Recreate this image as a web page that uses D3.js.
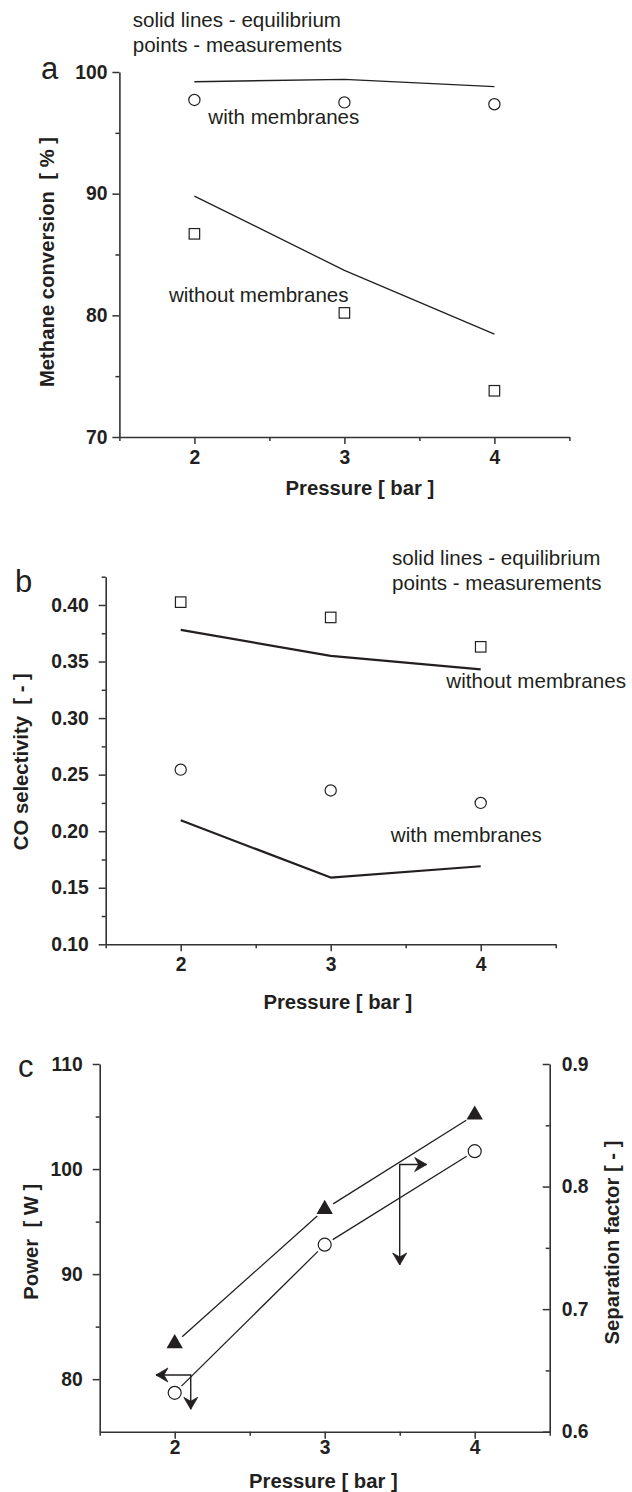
<!DOCTYPE html>
<html><head><meta charset="utf-8">
<script src="https://cdn.jsdelivr.net/npm/d3@7"></script>
<style>
body{margin:0;background:#fff;}
text{font-family:"Liberation Sans",Arial,Helvetica,sans-serif;fill:#231f20;white-space:pre;}
</style></head>
<body>
<script>
// ---------- data ----------
const pressure = [2, 3, 4];
const xMajor = [2, 3, 4];
const xMinor = [1.5, 2.5, 3.5, 4.5];

// panel a: methane conversion [%]
const convEqWith = [99.2, 99.4, 98.8];
const convMeasWith = [97.7, 97.5, 97.35];
const convEqWithout = [89.8, 83.7, 78.45];
const convMeasWithout = [86.7, 80.2, 73.8];
const aMajor = [70, 80, 90, 100];
const aMinor = [75, 85, 95];

// panel b: CO selectivity [-]
const selEqWithout = [0.378, 0.355, 0.343];
const selMeasWithout = [0.4025, 0.389, 0.363];
const selMeasWith = [0.2544, 0.236, 0.225];
const selEqWith = [0.2096, 0.159, 0.169];
const bMajor = [0.10, 0.15, 0.20, 0.25, 0.30, 0.35, 0.40];
const bMinor = [0.125, 0.175, 0.225, 0.275, 0.325, 0.375, 0.425];

// panel c: power [W] (left) and separation factor [-] (right)
const power = [78.7, 92.8, 101.7];
const sepFactor = [0.672, 0.7815, 0.8585];
const cLeftMajor = [80, 90, 100, 110];
const cLeftMinor = [85, 95, 105];
const cRightMajor = [0.6, 0.7, 0.8, 0.9];
const cRightMinor = [0.65, 0.75, 0.85];
// axis-pointer arrows: corner (x, y), horizontal tip xTip, vertical tip yTip
const sepArrow = {x: 3.5, y: 0.818, xTip: 3.68, yTip: 0.736};
const powArrow = {x: 2.107, y: 80.4, xTip: 1.875, yTip: 77.13};

// ---------- drawing ----------
const INK = "#231f20", AX = "#333";
const svg = d3.select("body").append("svg").attr("width", 632).attr("height", 1492);
svg.append("rect").attr("width", 632).attr("height", 1492).attr("fill", "#fff");

function styleAxis(g, fontSize) {
  g.select(".domain").attr("stroke", AX).attr("stroke-width", 1.6);
  g.selectAll(".tick line").attr("stroke", AX).attr("stroke-width", 1.5);
  g.selectAll(".tick text").attr("font-size", fontSize).attr("font-weight", "bold")
    .attr("font-family", "Liberation Sans, Arial, sans-serif").attr("fill", INK);
}
function axisPair(gen, major, minor, fmt, size, minorSize, pad, transform) {
  const g1 = svg.append("g").attr("transform", transform)
    .call(gen().tickValues(minor).tickSize(minorSize).tickSizeOuter(0).tickFormat(""));
  g1.select(".domain").remove();
  g1.selectAll(".tick line").attr("stroke", AX).attr("stroke-width", 1.5);
  const g2 = svg.append("g").attr("transform", transform)
    .call(gen().tickValues(major).tickSize(size).tickSizeOuter(0).tickPadding(pad).tickFormat(fmt));
  styleAxis(g2, 19.3);
  return g2;
}
function txt(x, y, s, opts = {}) {
  const t = svg.append("text").attr("x", x).attr("y", y).text(s)
    .attr("font-size", opts.size || 20.6).attr("font-weight", opts.bold ? "bold" : "normal");
  if (opts.anchor) t.attr("text-anchor", opts.anchor);
  if (opts.rotate) t.attr("transform", `rotate(${opts.rotate},${x},${y})`);
  return t;
}
function circles(xs, ys, x, y, r) {
  svg.append("g").selectAll("circle").data(xs).join("circle")
    .attr("cx", d => x(d)).attr("cy", (d, i) => y(ys[i])).attr("r", r)
    .attr("fill", "#fff").attr("stroke", INK).attr("stroke-width", 1.2);
}
function squares(xs, ys, x, y, s) {
  svg.append("g").selectAll("rect").data(xs).join("rect")
    .attr("x", d => x(d) - s / 2).attr("y", (d, i) => y(ys[i]) - s / 2)
    .attr("width", s).attr("height", s)
    .attr("fill", "#fff").attr("stroke", INK).attr("stroke-width", 1.2);
}
function line(xs, ys, x, y, w) {
  svg.append("path").datum(xs.map((d, i) => [d, ys[i]]))
    .attr("d", d3.line().x(d => x(d[0])).y(d => y(d[1])))
    .attr("fill", "none").attr("stroke", INK).attr("stroke-width", w).attr("stroke-linejoin", "round");
}
function gapLine(xs, ys, x, y, gap, w) {
  const pts = xs.map((d, i) => [x(d), y(ys[i])]);
  for (let i = 0; i < pts.length - 1; i++) {
    const [x0, y0] = pts[i], [x1, y1] = pts[i + 1];
    const L = Math.hypot(x1 - x0, y1 - y0), ux = (x1 - x0) / L, uy = (y1 - y0) / L;
    svg.append("path").attr("d", d3.line()([[x0 + ux * gap, y0 + uy * gap], [x1 - ux * gap, y1 - uy * gap]]))
      .attr("stroke", INK).attr("stroke-width", w).attr("fill", "none");
  }
}
function arrowHead(px, py, angleDeg) {
  svg.append("path").attr("d", "M0,0 L-12,-7 L-8,0 L-12,7 Z")
    .attr("transform", `translate(${px},${py}) rotate(${angleDeg})`).attr("fill", INK)
    .attr("stroke", INK).attr("stroke-width", 0.8).attr("stroke-linejoin", "round");
}
function pointer(a, x, y) {
  const cx = x(a.x), cy = y(a.y), hx = x(a.xTip), vy = y(a.yTip);
  svg.append("path").attr("d", d3.line()([[hx, cy], [cx, cy], [cx, vy]]))
    .attr("fill", "none").attr("stroke", INK).attr("stroke-width", 1.4);
  arrowHead(hx, cy, hx > cx ? 0 : 180);
  arrowHead(cx, vy, 90);
}

// ===== Panel a =====
{
  const x = d3.scaleLinear().domain([1.5, 4.5]).range([119.4, 569.4]);
  const y = d3.scaleLinear().domain([70, 100]).range([437, 72]);
  axisPair(d3.axisLeft.bind(null, y), aMajor, aMinor, d3.format("d"), 7, 4, 5, "translate(119.4,0)");
  axisPair(d3.axisBottom.bind(null, x), xMajor, xMinor, d3.format("d"), 7, 4, 6, "translate(0,437)");
  line(pressure, convEqWith, x, y, 1.3);
  line(pressure, convEqWithout, x, y, 1.3);
  circles(pressure, convMeasWith, x, y, 5.6);
  squares(pressure, convMeasWithout, x, y, 10.5);
  txt(132.7, 26.7, "solid lines - equilibrium");
  txt(132.7, 52, "points - measurements");
  txt(41, 79.3, "a", {size: 31});
  txt(208.3, 124, "with membranes");
  txt(168.9, 301.7, "without membranes");
  txt(285.5, 495, "Pressure [ bar ]", {bold: true, size: 20.3});
  txt(54, 262, "Methane conversion  [ % ]", {bold: true, size: 20.3, anchor: "middle", rotate: -90});
}

// ===== Panel b =====
{
  const x = d3.scaleLinear().domain([1.5, 4.5]).range([105.7, 555.7]);
  const y = d3.scaleLinear().domain([0.10, 0.425]).range([944.3, 576.7]);
  axisPair(d3.axisLeft.bind(null, y), bMajor, bMinor, d3.format(".2f"), 7, 4, 10, "translate(105.7,0)");
  axisPair(d3.axisBottom.bind(null, x), xMajor, xMinor, d3.format("d"), 7, 4, 6, "translate(0,944.3)");
  line(pressure, selEqWithout, x, y, 2.2);
  line(pressure, selEqWith, x, y, 2.2);
  squares(pressure, selMeasWithout, x, y, 10.5);
  circles(pressure, selMeasWith, x, y, 5.6);
  txt(392, 565, "solid lines - equilibrium");
  txt(392, 590, "points - measurements");
  txt(15, 591.7, "b", {size: 31});
  txt(446.3, 688.3, "without membranes");
  txt(390.8, 841.7, "with membranes");
  txt(263.4, 1009.3, "Pressure [ bar ]", {bold: true, size: 20.3});
  txt(28, 761.7, "CO selectivity  [ - ]", {bold: true, size: 20.3, anchor: "middle", rotate: -90});
}

// ===== Panel c =====
{
  const x = d3.scaleLinear().domain([1.5, 4.5]).range([99.7, 549.7]);
  const yL = d3.scaleLinear().domain([75, 110]).range([1431.7, 1064]);
  const yR = d3.scaleLinear().domain([0.6, 0.9]).range([1431.7, 1064]);
  axisPair(d3.axisLeft.bind(null, yL), cLeftMajor, cLeftMinor, d3.format("d"), 7, 4, 10, "translate(99.7,0)");
  axisPair(d3.axisRight.bind(null, yR), cRightMajor, cRightMinor, d3.format(".1f"), -7, -4, 12, "translate(549.7,0)");
  axisPair(d3.axisBottom.bind(null, x), xMajor, xMinor, d3.format("d"), 7, 4, 2, "translate(0,1431.7)");
  gapLine(pressure, sepFactor, x, yR, 10, 1.3);
  gapLine(pressure, power, x, yL, 9.5, 1.3);
  svg.append("g").selectAll("path").data(pressure).join("path")
    .attr("d", d3.symbol(d3.symbolTriangle, 115))
    .attr("transform", (d, i) => `translate(${x(d)},${yR(sepFactor[i])})`)
    .attr("fill", INK);
  circles(pressure, power, x, yL, 6.5);
  pointer(sepArrow, x, yR);
  pointer(powArrow, x, yL);
  txt(18, 1076.7, "c", {size: 31});
  txt(249, 1488, "Pressure [ bar ]", {bold: true, size: 20.3});
  txt(38.5, 1241.7, "Power  [ W ]", {bold: true, size: 20.3, anchor: "middle", rotate: -90});
  txt(619, 1242.5, "Separation factor [ - ]", {bold: true, size: 20.3, anchor: "middle", rotate: -90});
}
</script>
</body></html>
